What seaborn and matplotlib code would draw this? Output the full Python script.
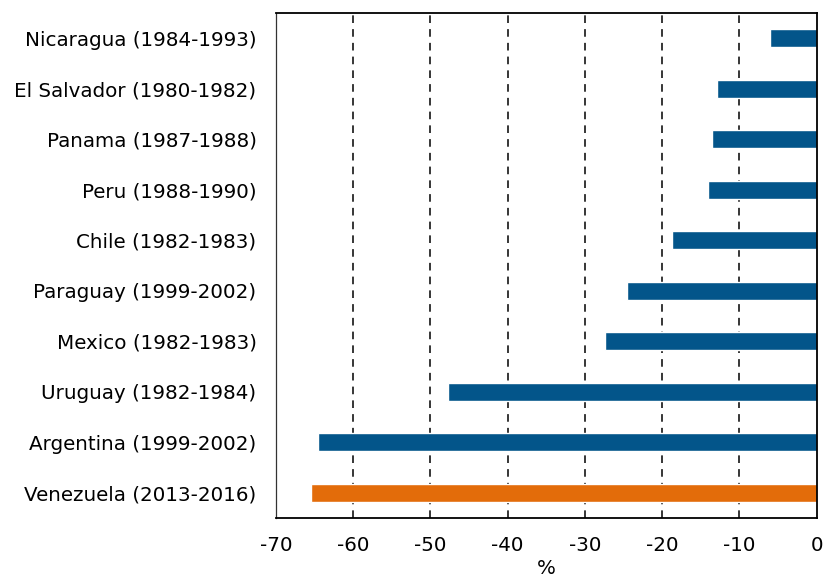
import matplotlib
matplotlib.use("Agg")
import matplotlib.pyplot as plt
import seaborn as sns
import pandas as pd

countries = ["Nicaragua (1984-1993)", "El Salvador (1980-1982)", "Panama (1987-1988)",
             "Peru (1988-1990)", "Chile (1982-1983)", "Paraguay (1999-2002)",
             "Mexico (1982-1983)", "Uruguay (1982-1984)", "Argentina (1999-2002)",
             "Venezuela (2013-2016)"]
values = [-6.0, -12.9, -13.5, -14.1, -18.8, -24.6, -27.4, -47.7, -64.6, -65.4]
groups = ["other"] * 9 + ["Venezuela"]
xticks = [-70, -60, -50, -40, -30, -20, -10, 0]

df = pd.DataFrame({"country": countries, "value": values, "group": groups})

sns.set_style("white")
plt.rcParams["font.family"] = ["DejaVu Sans"]
plt.rcParams["text.color"] = "black"
plt.rcParams["xtick.color"] = "black"
plt.rcParams["ytick.color"] = "black"
plt.rcParams["axes.labelcolor"] = "black"

fig = plt.figure(figsize=(8.25, 5.82), dpi=100)
ax = fig.add_axes([0.3345, 0.110, 0.6555, 0.8677])

sns.barplot(data=df, y="country", x="value", hue="group", orient="h",
            palette={"other": "#03558A", "Venezuela": "#E36C0A"},
            width=0.36, dodge=False, legend=False, ax=ax, saturation=1)

fs = 14.3
ax.set_xlim(-70, 0)
ax.set_ylim(9.5, -0.5)
ax.set_xticks(xticks)
ax.set_xticklabels([str(t) for t in xticks], fontsize=fs)
ax.tick_params(axis="y", labelsize=fs, length=0, pad=14)
ax.tick_params(axis="x", length=0, pad=13)
ax.set_ylabel("")
ax.set_xlabel("%", fontsize=fs, labelpad=3)

for t in [-60, -50, -40, -30, -20, -10]:
    ax.axvline(t, color="black", linestyle=(0, (5, 4)), linewidth=1.1, zorder=0)

for side in ["top", "right", "bottom"]:
    ax.spines[side].set_visible(True)
    ax.spines[side].set_color("black")
    ax.spines[side].set_linewidth(1.3)
ax.spines["left"].set_visible(True)
ax.spines["left"].set_color("#333333")
ax.spines["left"].set_linewidth(0.9)

fig.savefig("out.png", dpi=100)
